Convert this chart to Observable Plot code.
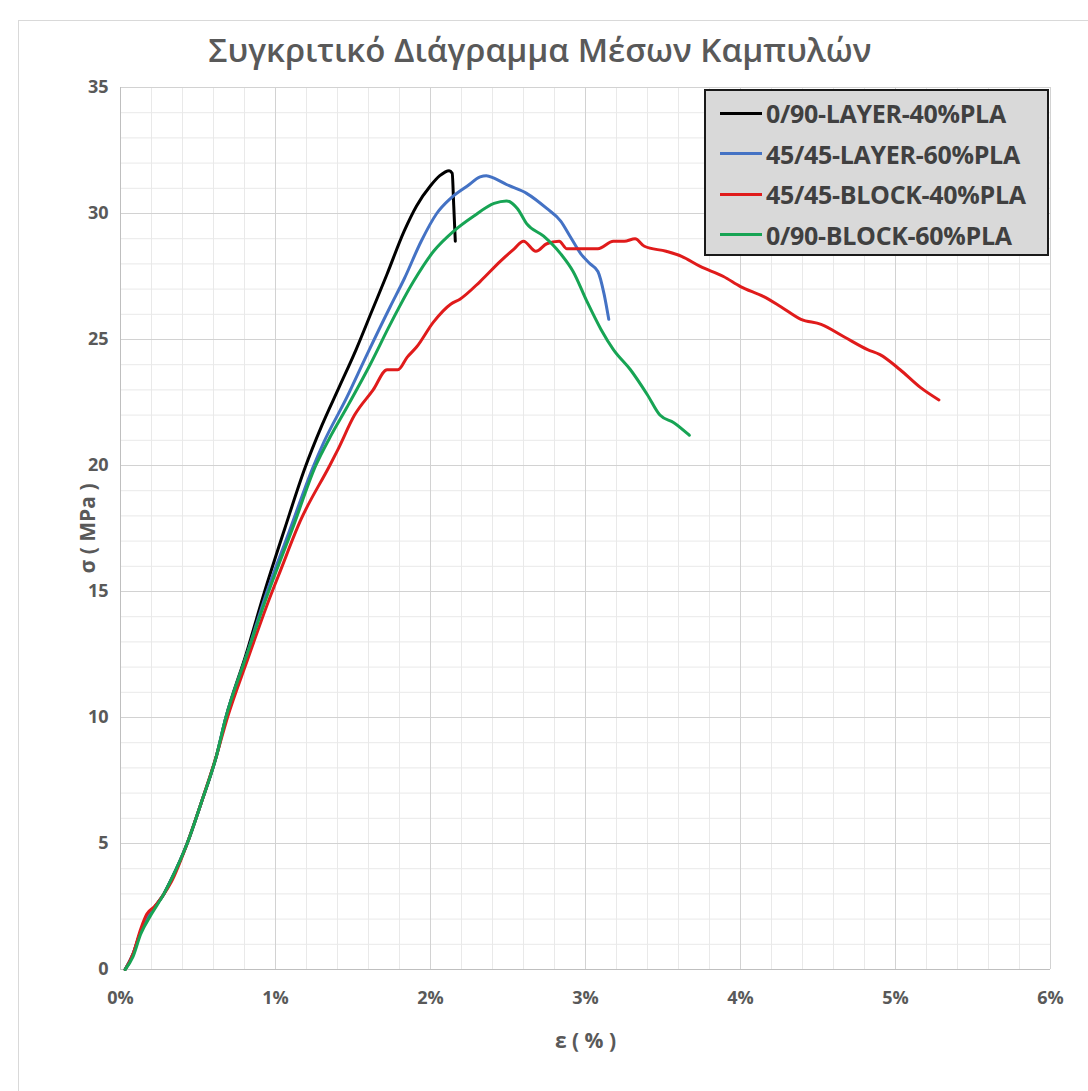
<!DOCTYPE html>
<html>
<head>
<meta charset="utf-8">
<script src="https://cdn.jsdelivr.net/npm/d3@7"></script>
<script src="https://cdn.jsdelivr.net/npm/@observablehq/plot@0.6"></script>
<style>
  html, body { margin: 0; padding: 0; background: #fff; }
  #wrap { position: relative; width: 1088px; height: 1091px; overflow: hidden; font-family: "Open Sans", sans-serif; }
  #frame { position: absolute; left: 18px; top: 20px; width: 1080px; height: 1080px; border-left: 1px solid #d9d9d9; border-top: 1px solid #d9d9d9; }
  #chart { position: absolute; left: 0; top: 0; }
  #title { position: absolute; left: 0; top: 30px; width: 1080px; text-align: center; font-size: 33px; font-weight: 600; color: #595959; line-height: 1.2; }
  #legend { position: absolute; left: 704px; top: 89px; width: 341px; height: 163px; background: #d9d9d9; border: 2px solid #1a1a1a; }
  .item { position: absolute; left: 14px; height: 30px; display: flex; align-items: center; }
  .sw { width: 42px; height: 3px; margin-right: 4px; }
  .lab { font-size: 25px; font-weight: 700; color: #404040; white-space: nowrap; letter-spacing: -0.3px; }
</style>
</head>
<body>
<div id="wrap">
  <div id="frame"></div>
  <div id="chart"></div>
  <div id="title"></div>
  <div id="legend"></div>
</div>
<script>
const titleText = "Συγκριτικό Διάγραμμα Μέσων Καμπυλών";
const xLabel = "ε ( % )";
const yLabel = "σ ( MPa )";

const seriesNames = ["0/90-LAYER-40%PLA", "45/45-LAYER-60%PLA", "45/45-BLOCK-40%PLA", "0/90-BLOCK-60%PLA"];
const seriesColors = ["#000000", "#4472C4", "#E01B1B", "#17A454"];

const xTicks = [0, 1, 2, 3, 4, 5, 6];
const yTicks = [0, 5, 10, 15, 20, 25, 30, 35];

// 0/90-LAYER-40%PLA
const black_eps = [0.03,0.08,0.13,0.20,0.28,0.33,0.43,0.52,0.62,0.68,0.81,0.93,1.06,1.19,1.30,1.41,1.52,1.62,1.72,1.83,1.91,2.00,2.06,2.12,2.14,2.15,2.16];
const black_sig = [0,0.6,1.5,2.3,3.0,3.6,5.0,6.6,8.5,10.0,12.5,15.0,17.5,19.9,21.6,23.1,24.6,26.1,27.6,29.3,30.3,31.1,31.5,31.7,31.6,30.3,28.9];

// 45/45-LAYER-60%PLA
const blue_eps = [0.03,0.08,0.13,0.20,0.28,0.33,0.43,0.52,0.62,0.68,0.81,0.94,1.09,1.24,1.31,1.46,1.59,1.74,1.83,1.94,2.04,2.13,2.24,2.32,2.36,2.41,2.49,2.62,2.75,2.84,2.90,2.97,3.03,3.08,3.12,3.15];
const blue_sig = [0,0.6,1.5,2.3,3.0,3.6,5.0,6.6,8.5,10.0,12.4,14.9,17.4,19.9,20.9,22.7,24.4,26.3,27.4,28.9,30.0,30.6,31.1,31.45,31.5,31.4,31.15,30.8,30.2,29.7,29.1,28.4,28.0,27.7,26.8,25.8];

// 45/45-BLOCK-40%PLA
const red_eps = [0.03,0.08,0.13,0.17,0.22,0.27,0.33,0.43,0.52,0.62,0.69,0.82,0.96,1.03,1.16,1.35,1.40,1.51,1.63,1.72,1.79,1.85,1.91,2.02,2.13,2.19,2.32,2.45,2.54,2.60,2.68,2.75,2.83,2.88,2.99,3.08,3.18,3.25,3.32,3.38,3.52,3.62,3.74,3.89,4.00,4.15,4.26,4.39,4.52,4.67,4.82,4.90,5.03,5.16,5.28];
const red_sig = [0,0.6,1.6,2.2,2.5,2.9,3.5,5.0,6.6,8.5,10.0,12.3,14.7,15.8,17.8,20.0,20.6,22.0,23.0,23.8,23.8,24.3,24.7,25.7,26.4,26.6,27.3,28.1,28.6,28.9,28.5,28.8,28.9,28.6,28.6,28.6,28.9,28.9,29.0,28.7,28.5,28.3,27.9,27.5,27.1,26.7,26.3,25.8,25.6,25.1,24.6,24.4,23.8,23.1,22.6];

// 0/90-BLOCK-60%PLA
const green_eps = [0.03,0.08,0.13,0.20,0.28,0.33,0.43,0.52,0.62,0.68,0.81,0.95,1.11,1.26,1.35,1.46,1.61,1.74,1.89,2.02,2.15,2.28,2.41,2.49,2.56,2.62,2.73,2.84,2.92,3.01,3.10,3.18,3.29,3.40,3.48,3.57,3.67];
const green_sig = [0,0.5,1.4,2.2,3.0,3.6,5.0,6.6,8.5,10.0,12.4,14.9,17.5,20.0,21.1,22.3,24.0,25.6,27.3,28.5,29.3,29.9,30.4,30.5,30.2,29.6,29.1,28.4,27.7,26.5,25.4,24.6,23.8,22.8,22.0,21.7,21.2];

const seriesEps = [black_eps, blue_eps, red_eps, green_eps];
const seriesSig = [black_sig, blue_sig, red_sig, green_sig];

const data = [];
seriesNames.forEach((name, i) => {
  seriesEps[i].forEach((e, j) => data.push({series: name, eps: e, sigma: seriesSig[i][j]}));
});

const minorX = d3.range(0, 31).map(i => i / 5);
const minorY = d3.range(0, 36);

const chart = Plot.plot({
  width: 1088,
  height: 1091,
  marginTop: 87,
  marginBottom: 122,
  marginLeft: 120,
  marginRight: 38,
  style: {fontFamily: "Open Sans, sans-serif", fontSize: "18px", fontWeight: 700, color: "#595959", background: "transparent", overflow: "visible"},
  x: {domain: [0, 6], ticks: xTicks, tickFormat: d => d + "%", tickSize: 0, tickPadding: 22, label: null},
  y: {domain: [0, 35], ticks: yTicks, tickSize: 0, tickPadding: 12, label: null},
  color: {domain: seriesNames, range: seriesColors},
  marks: [
    Plot.gridX(minorX, {stroke: "#e9e9e9", strokeOpacity: 1}),
    Plot.gridY(minorY, {stroke: "#e9e9e9", strokeOpacity: 1}),
    Plot.gridX(xTicks, {stroke: "#d2d2d2", strokeOpacity: 1}),
    Plot.gridY(yTicks, {stroke: "#d2d2d2", strokeOpacity: 1}),
    Plot.ruleX([0], {stroke: "#bfbfbf"}),
    Plot.ruleY([0], {stroke: "#bfbfbf"}),
    Plot.line(data, {x: "eps", y: "sigma", z: "series", stroke: "series", strokeWidth: 3, curve: "monotone-x", strokeLinejoin: "round", strokeLinecap: "round"}),
    Plot.text([yLabel], {frameAnchor: "left", dx: -32, rotate: -90, textAnchor: "middle", lineAnchor: "middle", fontSize: 21, fontWeight: 700, fill: "#595959"}),
    Plot.text([xLabel], {frameAnchor: "bottom", dy: 72, textAnchor: "middle", lineAnchor: "middle", fontSize: 21, fontWeight: 700, fill: "#595959"})
  ]
});
document.getElementById("chart").appendChild(chart);
document.getElementById("title").textContent = titleText;

const legend = document.getElementById("legend");
seriesNames.forEach((name, i) => {
  const it = document.createElement("div");
  it.className = "item";
  it.style.top = (7 + i * 40.5) + "px";
  const sw = document.createElement("div");
  sw.className = "sw";
  sw.style.background = seriesColors[i];
  const lb = document.createElement("span");
  lb.className = "lab";
  lb.textContent = name;
  it.appendChild(sw); it.appendChild(lb);
  legend.appendChild(it);
});
</script>
</body>
</html>
